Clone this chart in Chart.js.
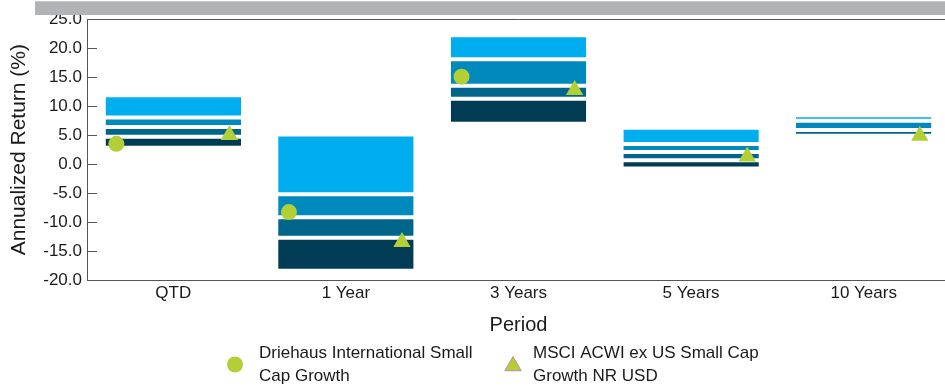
<!DOCTYPE html>
<html>
<head>
<meta charset="utf-8">
<script src="https://cdn.jsdelivr.net/npm/chart.js@4.4.1/dist/chart.umd.min.js"></script>
<style>
html,body{margin:0;padding:0;overflow:hidden;background:#fff;width:945px;height:388px;}
#wrap{position:relative;width:960px;height:388px;}
canvas{position:absolute;left:0;top:0;}
#topbar{position:absolute;left:35px;top:1px;width:910px;height:14px;background:#B1B3B6;border-top:1px solid #C6C8CA;box-sizing:border-box;}
</style>
</head>
<body>
<div id="wrap">
  <canvas id="c" width="960" height="388"></canvas>
  <div id="topbar"></div>
</div>
<script>
// ---- data ----
const categories = ['QTD', '1 Year', '3 Years', '5 Years', '10 Years'];
const pct5  = [11.90,   5.10, 22.24,  6.26, 8.45];   // top of band
const pct25 = [ 8.07,  -5.21, 18.10,  3.47, 7.47];
const pct50 = [ 6.41,  -9.17, 13.55,  2.09, 5.88];
const pct75 = [ 4.73, -12.71, 11.28,  0.69, 4.88];
const pct95 = [ 2.81, -18.40,  6.95, -0.76, 4.78];   // bottom of band
const fundReturns  = [3.50,  -8.28, 15.10, null, null];
const benchReturns = [5.05, -13.45, 12.81, 1.31, 4.88];
const yTickValues = [-20, -15, -10, -5, 0, 5, 10, 15, 20, 25];
const fundLabel  = ['Driehaus International Small', 'Cap Growth'];
const benchLabel = ['MSCI ACWI ex US Small Cap', 'Growth NR USD'];
const yTitle = 'Annualized Return (%)';
const xTitle = 'Period';

// ---- styles ----
const FONT = '"Liberation Sans", Arial, Helvetica, sans-serif';
const TEXT = '#1a1a1a';
const AXIS = '#555555';
const GREEN = '#B2CF36';
const bandColors = ['#00ADEE', '#0089BD', '#00658A', '#003D55'];
const FUND_DODGE = -0.33;
const BENCH_DODGE = 0.325;

Chart.defaults.font.family = FONT;
Chart.defaults.font.size = 17;
Chart.defaults.color = TEXT;

const bandPairs = [[pct25, pct5], [pct50, pct25], [pct75, pct50], [pct95, pct75]];
const barSets = bandPairs.map(([lo, hi], k) => ({
  type: 'bar',
  label: 'band' + k,
  data: lo.map((v, i) => [v, hi[i]]),
  backgroundColor: bandColors[k],
  borderColor: '#ffffff',
  borderWidth: {top: 2, bottom: 2, left: 0, right: 0},
  borderSkipped: false,
  inflateAmount: 0,
  grouped: false,
  barPercentage: 0.785,
  categoryPercentage: 1,
  xAxisID: 'x',
  order: 2
}));

function toPoints(arr, dodge) {
  return arr.map((v, i) => v == null ? null : {x: i + dodge, y: v}).filter(p => p);
}

const pointSets = [
  {
    type: 'scatter', label: fundLabel.join(' '), xAxisID: 'xp',
    data: toPoints(fundReturns, FUND_DODGE),
    pointStyle: 'circle', pointRadius: 8, pointHoverRadius: 8,
    pointBackgroundColor: GREEN, pointBorderWidth: 0, backgroundColor: GREEN, borderColor: GREEN,
    order: 0
  },
  {
    type: 'scatter', label: benchLabel.join(' '), xAxisID: 'xp',
    data: toPoints(benchReturns, BENCH_DODGE),
    pointStyle: 'triangle', pointRadius: 10, pointHoverRadius: 10,
    pointBackgroundColor: GREEN, pointBorderWidth: 0, backgroundColor: GREEN, borderColor: GREEN,
    order: 0
  }
];

const framePlugin = {
  id: 'frameAndLegend',
  afterDraw(chart) {
    const {ctx, chartArea: a, scales: {y}} = chart;
    ctx.save();
    ctx.strokeStyle = AXIS;
    ctx.lineWidth = 1;
    ctx.beginPath();
    const ty = Math.round(a.top) + 0.5;
    ctx.moveTo(a.left, ty); ctx.lineTo(a.right, ty);
    y.ticks.forEach(t => {
      const py = Math.round(y.getPixelForValue(t.value)) + 0.5;
      ctx.moveTo(a.left, py); ctx.lineTo(a.left + 10, py);
    });
    ctx.stroke();

    // legend
    ctx.fillStyle = GREEN;
    ctx.beginPath();
    ctx.arc(235, 364.5, 8, 0, Math.PI * 2);
    ctx.fill();
    const tx = 513, tcy = 366, r = 9.5;
    ctx.beginPath();
    ctx.moveTo(tx, tcy - r);
    ctx.lineTo(tx + r * Math.sin(Math.PI * 2 / 3), tcy + r / 2);
    ctx.lineTo(tx - r * Math.sin(Math.PI * 2 / 3), tcy + r / 2);
    ctx.closePath();
    ctx.fill();
    ctx.strokeStyle = 'rgba(190,110,170,0.75)';
    ctx.stroke();

    ctx.fillStyle = TEXT;
    ctx.font = '17px ' + FONT;
    ctx.textBaseline = 'middle';
    ctx.textAlign = 'left';
    fundLabel.forEach((s, i) => ctx.fillText(s, 259, 353 + i * 23));
    benchLabel.forEach((s, i) => ctx.fillText(s, 533, 353 + i * 23));
    ctx.restore();
  }
};

new Chart(document.getElementById('c'), {
  type: 'bar',
  data: {labels: categories, datasets: [...pointSets, ...barSets]},
  options: {
    responsive: false,
    animation: false,
    layout: {padding: {top: 19.3, right: 3.5, bottom: 51, left: 0}},
    plugins: {legend: {display: false}, tooltip: {enabled: false}},
    scales: {
      x: {
        type: 'category',
        offset: true,
        grid: {display: false, drawTicks: false},
        border: {display: true, color: AXIS, width: 1},
        ticks: {padding: 3, color: TEXT, font: {size: 17}},
        title: {display: true, text: xTitle, color: TEXT, font: {size: 20}, padding: {top: 6.6, bottom: 0}}
      },
      xp: {
        type: 'linear', axis: 'x', position: 'bottom', display: false,
        offset: false, grid: {offset: false},
        min: -0.5, max: 4.5
      },
      y: {
        type: 'linear',
        min: -20, max: 25,
        afterBuildTicks: s => { s.ticks = yTickValues.map(v => ({value: v})); },
        afterFit: s => { s.width = 87; },
        grid: {display: false, drawTicks: false},
        border: {display: true, color: AXIS, width: 1},
        ticks: {padding: 5, color: TEXT, font: {size: 17}, callback: v => Number(v).toFixed(1)},
        title: {display: true, text: yTitle, color: TEXT, font: {size: 21}, padding: {top: 7, bottom: 0}}
      }
    }
  },
  plugins: [framePlugin]
});
</script>
</body>
</html>
